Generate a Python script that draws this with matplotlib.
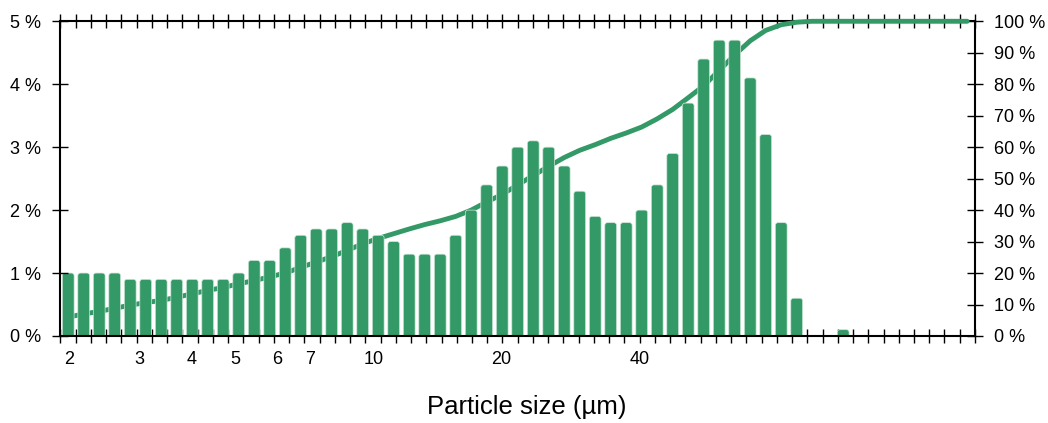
import matplotlib
matplotlib.use('Agg')
import matplotlib.pyplot as plt
from matplotlib.patches import FancyBboxPatch
import numpy as np

plt.rcParams['font.family'] = ['Liberation Sans', 'DejaVu Sans']

# differential volume per size class (%), 59 classes
bar_pct = [1.0, 1.0, 1.0, 1.0, 0.9, 0.9, 0.9, 0.9, 0.9, 0.9,
           0.9, 1.0, 1.2, 1.2, 1.4, 1.6, 1.7, 1.7, 1.8, 1.7,
           1.6, 1.5, 1.3, 1.3, 1.3, 1.6, 2.0, 2.4, 2.7, 3.0,
           3.1, 3.0, 2.7, 2.3, 1.9, 1.8, 1.8, 2.0, 2.4, 2.9,
           3.7, 4.4, 4.7, 4.7, 4.1, 3.2, 1.8, 0.6, 0.0, 0.0,
           0.1, 0.0, 0.0, 0.0, 0.0, 0.0, 0.0, 0.0, 0.0]
# cumulative undersize (%)
cum_pct = [6.0, 7.0, 7.8, 8.8, 9.8, 10.6, 11.3, 12.3, 13.4, 14.5,
           15.4, 16.6, 17.6, 18.8, 20.0, 21.8, 23.5, 25.2, 27.2, 29.3,
           31.0, 32.5, 34.0, 35.4, 36.6, 38.0, 40.0, 42.6, 45.0, 48.0,
           51.0, 53.9, 56.7, 59.0, 60.8, 62.8, 64.5, 66.4, 69.0, 72.0,
           75.7, 79.5, 84.4, 89.3, 93.8, 97.1, 98.9, 99.7, 100, 100,
           100, 100, 100, 100, 100, 100, 100, 100, 100]
size_labels = ["2", "3", "4", "5", "6", "7", "10", "20", "40"]
size_label_pos = [0.55, 5.06, 8.48, 11.26, 13.99, 16.1, 20.2, 28.46, 37.39]

green = "#339966"
n = len(bar_pct)
xpos = np.arange(n) + 0.5

fig = plt.figure(figsize=(10.48, 4.23), dpi=100)
ax2 = fig.add_axes([0.0577, 0.2057, 0.8726, 0.7440])   # cumulative, right axis
ax = ax2.twinx()                                        # bars, left axis
ax.yaxis.set_ticks_position('left')
ax2.yaxis.set_ticks_position('right')
ax.patch.set_visible(False)

ax2.set_xlim(0, n)
ax.set_ylim(0, 5)
ax2.set_ylim(0, 100)

# cumulative curve (behind the bars)
ax2.plot(xpos, cum_pct, color=green, lw=3.5, solid_capstyle='round',
         zorder=3, clip_on=False)

# bars with slightly rounded tops
asp = (914.5 / n) / (314.7 / 5)
rects = ax.bar(xpos, bar_pct, width=0.76, color=green)
for r in rects:
    h = r.get_height()
    if h > 0:
        p = FancyBboxPatch((r.get_x(), -0.1), r.get_width(), h + 0.1,
                           boxstyle="round,pad=0,rounding_size=0.17",
                           mutation_aspect=asp, fc=green, ec="#cfe7d9", lw=0.5)
        ax.add_patch(p)
    r.remove()

# spines
for s in ['left', 'right', 'bottom']:
    ax.spines[s].set_linewidth(1.5)
ax.spines['top'].set_visible(False)
for s in ['left', 'right', 'bottom']:
    ax2.spines[s].set_visible(False)
ax2.spines['top'].set_linewidth(1.5)

# y ticks
ax.set_yticks(range(0, 6))
ax.set_yticklabels(["%d %%" % v for v in range(0, 6)])
ax2.set_yticks(range(0, 101, 10))
ax2.set_yticklabels(["%d %%" % v for v in range(0, 101, 10)])
ax.tick_params(axis='y', direction='inout', length=11, width=1, labelsize=13, pad=8.5)
ax2.tick_params(axis='y', direction='inout', length=11, width=1, labelsize=13, pad=8.5)

# x ticks (the visible x axis belongs to ax2)
ax2.set_xticks(size_label_pos)
ax2.set_xticklabels(size_labels)
ax2.set_xticks(np.linspace(0, n, 61), minor=True)
ax2.tick_params(axis='x', which='major', length=0, labelsize=13, pad=10.5)
ax2.tick_params(axis='x', which='minor', direction='inout', length=10, width=1,
                top=True, bottom=True)

fig.text(0.503, 1 - 407 / 423, "Particle size (µm)", ha='center', va='center',
         fontsize=18.5)

plt.savefig("out.png", dpi=100)
